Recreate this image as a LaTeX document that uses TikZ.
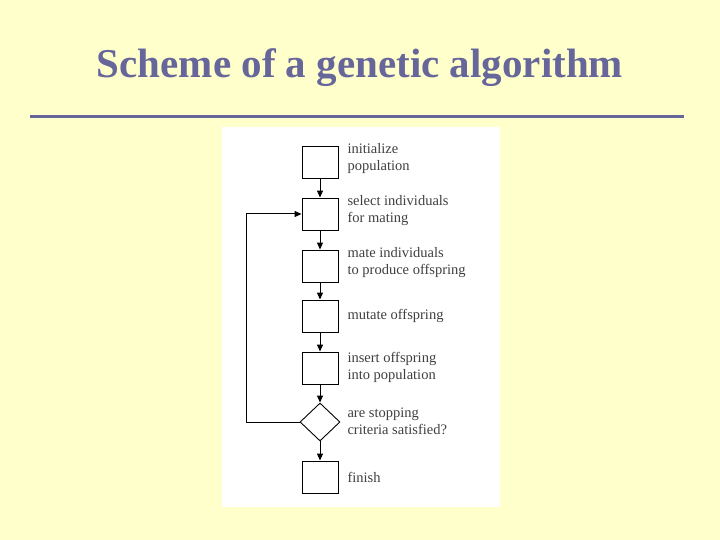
\documentclass[tikz,border=0pt]{standalone}
\usepackage{fontspec}
\setmainfont{Liberation Serif}
\usetikzlibrary{arrows.meta,shapes.geometric}
\definecolor{bg}{HTML}{FFFFCC}
\definecolor{ttl}{HTML}{66669A}
\begin{document}
\begin{tikzpicture}[x=1pt,y=-1pt,
  box/.style={draw,line width=0.9pt,minimum width=36pt,minimum height=32pt,inner sep=0},
  lbl/.style={anchor=west,align=left,font=\fontsize{14.5}{17}\selectfont,text=black!75},
  arr/.style={line width=1pt,-{Triangle[length=7pt,width=6pt]}}]
\fill[bg] (0,0) rectangle (720,540);
\useasboundingbox (0,0) rectangle (720,540);
\node[text=ttl,font=\bfseries\fontsize{41}{46}\selectfont] (title) at (360,68) {Scheme of a genetic algorithm};
\draw[ttl,line width=3pt] (30,117) coordinate (l1) -- (684,117) coordinate (l2);
\fill[white] (222,127) rectangle (500,507);
\node[box] (b1) at (320,162) {};
\node[box] (b2) at (320,214) {};
\node[box] (b3) at (320,266) {};
\node[box] (b4) at (320,316) {};
\node[box] (b5) at (320,368) {};
\node[draw,line width=0.9pt,shape=diamond,minimum width=40pt,minimum height=38pt,inner sep=0] (d) at (320,422) {};
\node[box] (b6) at (320,477) {};
\node[lbl] at (344,159) {initialize\\population};
\node[lbl] at (344,211) {select individuals\\for mating};
\node[lbl] at (344,263) {mate individuals\\to produce offspring};
\node[lbl] at (344,316) {mutate offspring};
\node[lbl] at (344,367) {insert offspring\\into population};
\node[lbl] at (344,421) {are stopping\\criteria satisfied?};
\node[lbl] at (344,477) {finish};
\draw[arr] (b1) -- (b2);
\draw[arr] (b2) -- (b3);
\draw[arr] (b3) -- (b4);
\draw[arr] (b4) -- (b5);
\draw[arr] (b5) -- (d);
\draw[arr] (d) -- (b6);
\draw[arr] (d.west) -- (246,422) -- (246,214) -- (b2.west);
\end{tikzpicture}
\end{document}
